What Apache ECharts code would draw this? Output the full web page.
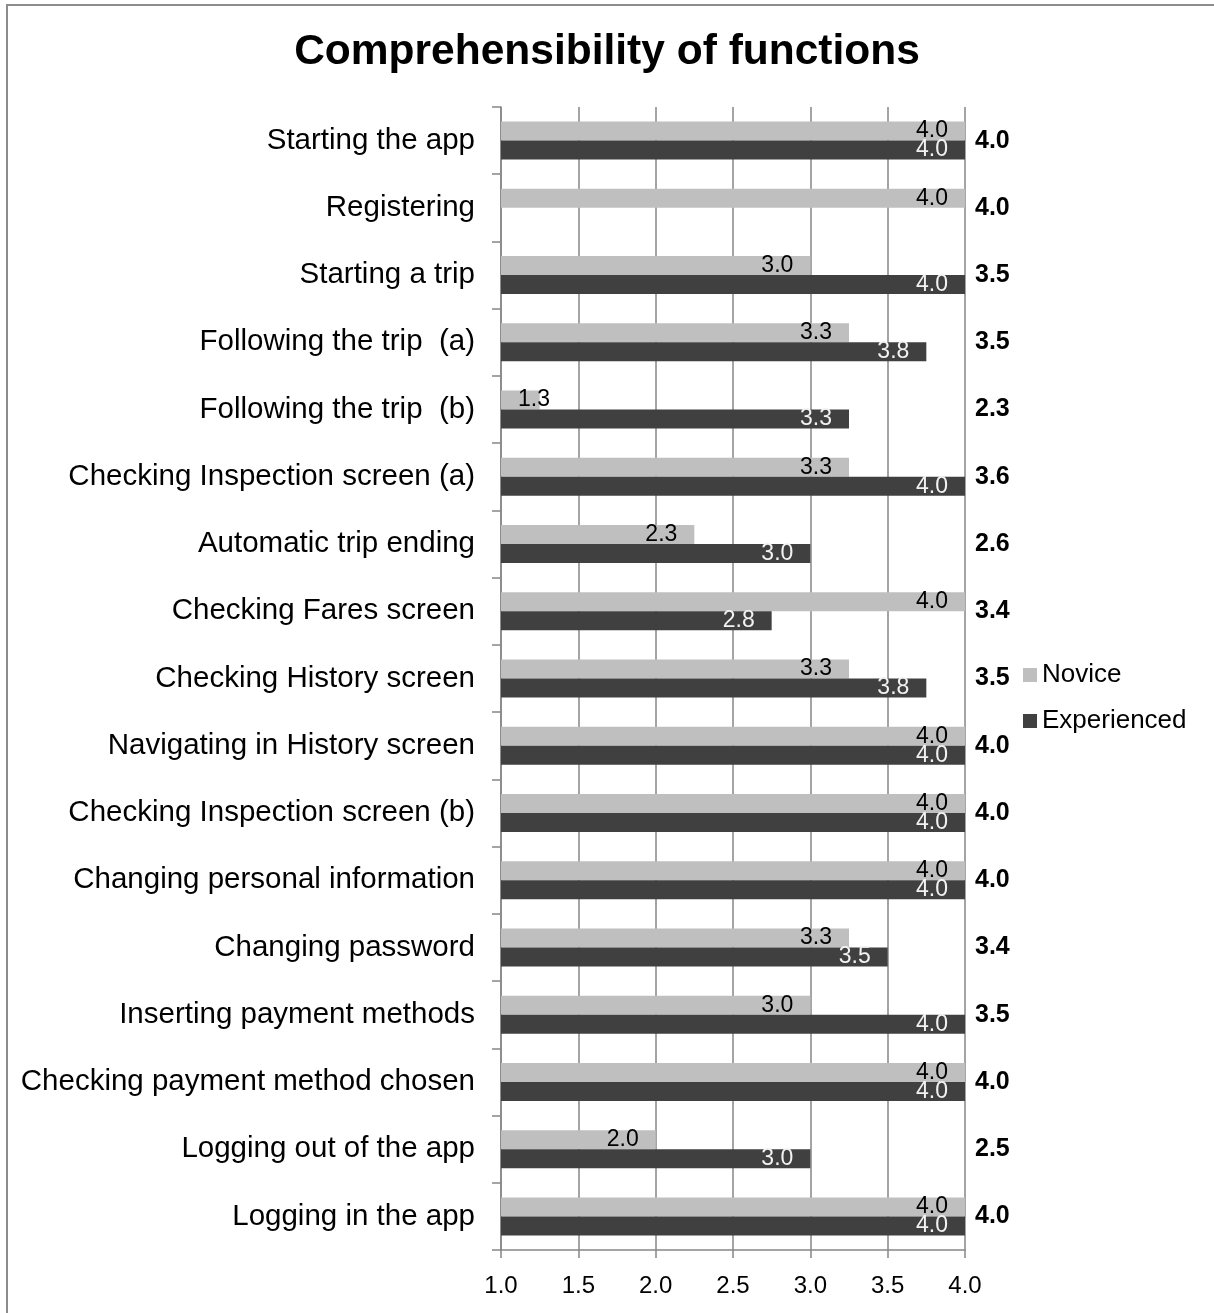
<!DOCTYPE html>
<html>
<head>
<meta charset="utf-8" />
<title>Comprehensibility of functions</title>
<script src="https://cdn.jsdelivr.net/npm/echarts@6/dist/echarts.min.js"></script>
<style>
    html, body { margin: 0; padding: 0; background: #fff; }
    #main { position: absolute; left: 0; top: 0; width: 1214px; height: 1313px; }
    #frame { position: absolute; left: 6px; top: 4px; right: 0; bottom: 0;
             border-top: 2px solid #8c8c8c; border-left: 2px solid #8c8c8c; pointer-events: none; }
</style>
</head>
<body>
<div id="main"></div>
<div id="frame"></div>
<script type="text/javascript">
    // functions, top to bottom
    var categories = ['Starting the app', 'Registering', 'Starting a trip', 'Following the trip  (a)',
        'Following the trip  (b)', 'Checking Inspection screen (a)', 'Automatic trip ending',
        'Checking Fares screen', 'Checking History screen', 'Navigating in History screen',
        'Checking Inspection screen (b)', 'Changing personal information', 'Changing password',
        'Inserting payment methods', 'Checking payment method chosen', 'Logging out of the app',
        'Logging in the app'];
    var novice = [4, 4, 3, 3.25, 1.25, 3.25, 2.25, 4, 3.25, 4, 4, 4, 3.25, 3, 4, 2, 4];
    var experienced = [4, null, 4, 3.75, 3.25, 4, 3, 2.75, 3.75, 4, 4, 4, 3.5, 4, 4, 3, 4];
    // bold numbers at the right of the plot
    var overall = ['4.0', '4.0', '3.5', '3.5', '2.3', '3.6', '2.6', '3.4', '3.5', '4.0',
        '4.0', '4.0', '3.4', '3.5', '4.0', '2.5', '4.0'];
    var xTicks = [1.0, 1.5, 2.0, 2.5, 3.0, 3.5, 4.0];

    var FONT = 'Liberation Sans, Arial, sans-serif';
    var GRID_COLOR = '#868686';

    function barData(arr) {
        // short bars get their label at the start, like the original
        return arr.map(function (v) {
            if (v != null && v < 1.5) {
                return { value: v, label: { position: 'insideLeft', distance: 17 } };
            }
            return v;
        });
    }

    var myChart = echarts.init(document.getElementById('main'), null, { renderer: 'canvas' });
    var option = {
        backgroundColor: '#fff',
        animation: false,
        title: {
            text: 'Comprehensibility of functions',
            left: 'center',
            top: 26,
            textStyle: { fontFamily: FONT, fontSize: 42.5, fontWeight: 'bold', color: '#000' }
        },
        legend: {
            data: ['Novice', 'Experienced'],
            orient: 'vertical',
            left: 1023,
            top: 662,
            itemWidth: 14,
            itemHeight: 14,
            itemGap: 20,
            icon: 'rect',
            padding: 0,
            textStyle: { fontFamily: FONT, fontSize: 26, color: '#000', lineHeight: 26 }
        },
        grid: { left: 501, right: 249, top: 107, bottom: 63, containLabel: false },
        xAxis: {
            type: 'value',
            min: xTicks[0],
            max: xTicks[xTicks.length - 1],
            interval: 0.5,
            axisLine: { show: true, lineStyle: { color: GRID_COLOR, width: 1.5 } },
            axisTick: { show: true, length: 8, lineStyle: { color: GRID_COLOR, width: 1.5 } },
            splitLine: { show: true, lineStyle: { color: GRID_COLOR, width: 1.5 } },
            axisLabel: {
                margin: 24,
                fontFamily: FONT, fontSize: 24, color: '#000',
                formatter: function (v) { return v.toFixed(1); }
            }
        },
        yAxis: [
            {
                type: 'category',
                inverse: true,
                data: categories,
                axisLine: { show: true, lineStyle: { color: GRID_COLOR, width: 1.5 } },
                axisTick: { show: true, length: 9, lineStyle: { color: GRID_COLOR, width: 1.5 } },
                axisLabel: { margin: 26, fontFamily: FONT, fontSize: 29.5, color: '#000' }
            },
            {
                type: 'category',
                inverse: true,
                position: 'right',
                data: categories,
                axisLine: { show: false },
                axisTick: { show: false },
                axisLabel: {
                    margin: 10,
                    fontFamily: FONT, fontSize: 25, fontWeight: 'bold', color: '#000',
                    formatter: function (v, i) { return overall[i]; }
                }
            }
        ],
        series: [
            {
                name: 'Novice',
                type: 'bar',
                barWidth: 19,
                barGap: '0%',
                itemStyle: { color: '#bfbfbf' },
                label: {
                    show: true, position: 'insideRight', distance: 17,
                    fontFamily: FONT, fontSize: 23, color: '#000',
                    formatter: function (p) { return p.value.toFixed(1); }
                },
                data: barData(novice)
            },
            {
                name: 'Experienced',
                type: 'bar',
                barWidth: 19,
                barGap: '0%',
                itemStyle: { color: '#404040' },
                label: {
                    show: true, position: 'insideRight', distance: 17,
                    fontFamily: FONT, fontSize: 23, color: '#f2f2f2',
                    formatter: function (p) { return p.value.toFixed(1); }
                },
                data: barData(experienced)
            }
        ]
    };
    myChart.setOption(option);
</script>
</body>
</html>
